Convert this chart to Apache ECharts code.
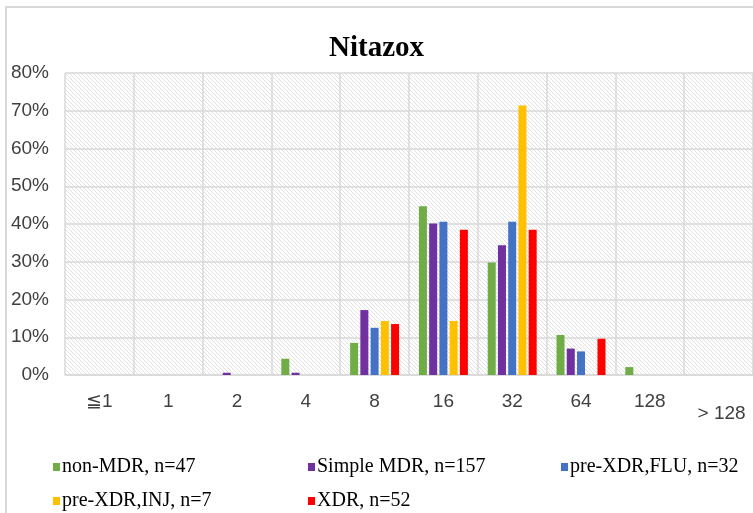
<!DOCTYPE html>
<html>
<head>
<meta charset="utf-8">
<script src="https://cdn.jsdelivr.net/npm/echarts@6/dist/echarts.min.js"></script>
<style>
  html, body { margin: 0; padding: 0; background: #fff; }
  #chart { width: 753px; height: 513px; }
</style>
</head>
<body>
<div id="chart"></div>
<script>
// MIC categories
const categories = ['≦1', '1', '2', '4', '8', '16', '32', '64', '128', '>128'];

// percentages per group
const nonMDR     = [0, 0, 0, 4.3, 8.5, 44.7, 29.8, 10.6, 2.1, 0];
const simpleMDR  = [0, 0, 0.6, 0.6, 17.2, 40.1, 34.4, 7.0, 0, 0];
const preXdrFlu  = [0, 0, 0, 0, 12.5, 40.6, 40.6, 6.25, 0, 0];
const preXdrInj  = [0, 0, 0, 0, 14.3, 14.3, 71.4, 0, 0, 0];
const xdr        = [0, 0, 0, 0, 13.5, 38.5, 38.5, 9.6, 0, 0];

const seriesNames = ['non-MDR, n=47', 'Simple MDR, n=157', 'pre-XDR,FLU, n=32', 'pre-XDR,INJ, n=7', 'XDR, n=52'];
const seriesData = [nonMDR, simpleMDR, preXdrFlu, preXdrInj, xdr];
const colors = ['#70ad47', '#7030a0', '#4472c4', '#ffc000', '#ff0000'];

// diagonal hatch for the plot background
function makeHatch() {
  const c = document.createElement('canvas');
  c.width = 4; c.height = 4;
  const ctx = c.getContext('2d');
  ctx.fillStyle = '#ffffff';
  ctx.fillRect(0, 0, 4, 4);
  ctx.strokeStyle = '#dedede';
  ctx.lineWidth = 0.9;
  ctx.beginPath();
  ctx.moveTo(-1, -1); ctx.lineTo(5, 5);
  ctx.moveTo(-1, 3); ctx.lineTo(1, 5);
  ctx.moveTo(3, -1); ctx.lineTo(5, 1);
  ctx.stroke();
  return c;
}

const myChart = echarts.init(document.getElementById('chart'));

const legendPos = [
  { left: 48, top: 452 },
  { left: 303, top: 452 },
  { left: 556, top: 452 },
  { left: 48, top: 486 },
  { left: 303, top: 486 }
];

const option = {
  animation: false,
  title: {
    text: 'Nitazox',
    left: 'center',
    top: 29,
    textStyle: {
      fontFamily: 'Liberation Serif',
      fontWeight: 'bold',
      fontSize: 29,
      color: '#000'
    }
  },
  graphic: [{
    type: 'rect',
    shape: { x: 6, y: 7, width: 800, height: 560 },
    style: { fill: 'none', stroke: '#d9d9d9', lineWidth: 2 },
    silent: true
  }],
  legend: legendPos.map((p, i) => ({
    data: [seriesNames[i]],
    left: p.left,
    top: p.top,
    icon: 'rect',
    itemWidth: 7,
    itemHeight: 8,
    itemGap: 0,
    textStyle: {
      fontFamily: 'Liberation Serif',
      fontSize: 20,
      color: '#000',
      padding: [0, 0, 0, -3]
    }
  })),
  grid: {
    left: 65,
    top: 73,
    bottom: 138,
    right: -6,
    show: true,
    borderWidth: 0,
    backgroundColor: { image: makeHatch(), repeat: 'repeat' }
  },
  xAxis: {
    type: 'category',
    data: categories,
    axisLine: { lineStyle: { color: '#d9d9d9', width: 1.5 } },
    axisTick: { show: false },
    splitLine: { show: true, interval: 0, lineStyle: { color: '#d9d9d9', width: 1.5 } },
    axisLabel: {
      interval: 0,
      margin: 17,
      fontFamily: 'Liberation Sans',
      fontSize: 19,
      color: '#404040',
      formatter: function (v) {
        return v === '>128' ? '{low|> 128}' : v;
      },
      rich: {
        low: { fontFamily: 'Liberation Sans', fontSize: 19, color: '#404040', padding: [12, 0, 0, 6] }
      }
    }
  },
  yAxis: {
    type: 'value',
    min: 0,
    max: 80,
    interval: 10,
    axisLine: { show: false },
    axisTick: { show: false },
    splitLine: { lineStyle: { color: '#d9d9d9', width: 1.5 } },
    axisLabel: {
      margin: 16,
      fontFamily: 'Liberation Sans',
      fontSize: 19,
      color: '#404040',
      formatter: '{value}%'
    }
  },
  series: seriesNames.map((name, i) => ({
    name: name,
    type: 'bar',
    barWidth: 8,
    barGap: '28%',
    itemStyle: { color: colors[i] },
    data: seriesData[i]
  }))
};

myChart.setOption(option);
</script>
</body>
</html>
